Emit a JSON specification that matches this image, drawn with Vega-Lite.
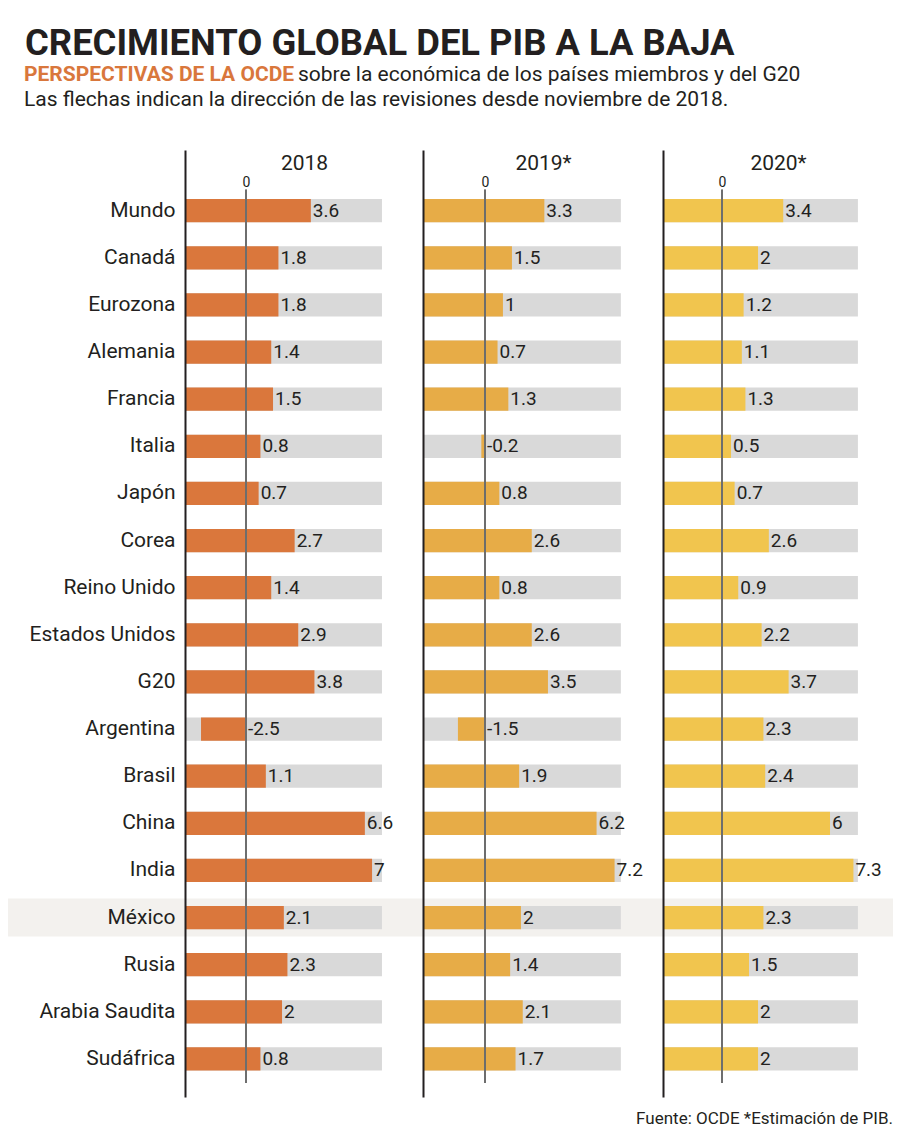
{
  "$schema": "https://vega.github.io/schema/vega-lite/v6.json",
  "background": "white",
  "padding": {"left": 8, "right": 7, "top": 26, "bottom": 10},
  "config": {"font": "Roboto", "view": {"stroke": null}},
  "title": {"text": "CRECIMIENTO GLOBAL DEL PIB A LA BAJA", "anchor": "start", "frame": "bounds", "fontSize": 36.4, "fontWeight": "bold", "font": "Roboto", "color": "#231F20", "dx": 17, "offset": 1},
  "datasets": {
    "pib": [
      {"pais": "Mundo", "anio": "2018", "valor": 3.6},
      {"pais": "Canadá", "anio": "2018", "valor": 1.8},
      {"pais": "Eurozona", "anio": "2018", "valor": 1.8},
      {"pais": "Alemania", "anio": "2018", "valor": 1.4},
      {"pais": "Francia", "anio": "2018", "valor": 1.5},
      {"pais": "Italia", "anio": "2018", "valor": 0.8},
      {"pais": "Japón", "anio": "2018", "valor": 0.7},
      {"pais": "Corea", "anio": "2018", "valor": 2.7},
      {"pais": "Reino Unido", "anio": "2018", "valor": 1.4},
      {"pais": "Estados Unidos", "anio": "2018", "valor": 2.9},
      {"pais": "G20", "anio": "2018", "valor": 3.8},
      {"pais": "Argentina", "anio": "2018", "valor": -2.5},
      {"pais": "Brasil", "anio": "2018", "valor": 1.1},
      {"pais": "China", "anio": "2018", "valor": 6.6},
      {"pais": "India", "anio": "2018", "valor": 7},
      {"pais": "México", "anio": "2018", "valor": 2.1},
      {"pais": "Rusia", "anio": "2018", "valor": 2.3},
      {"pais": "Arabia Saudita", "anio": "2018", "valor": 2},
      {"pais": "Sudáfrica", "anio": "2018", "valor": 0.8},
      {"pais": "Mundo", "anio": "2019", "valor": 3.3},
      {"pais": "Canadá", "anio": "2019", "valor": 1.5},
      {"pais": "Eurozona", "anio": "2019", "valor": 1},
      {"pais": "Alemania", "anio": "2019", "valor": 0.7},
      {"pais": "Francia", "anio": "2019", "valor": 1.3},
      {"pais": "Italia", "anio": "2019", "valor": -0.2},
      {"pais": "Japón", "anio": "2019", "valor": 0.8},
      {"pais": "Corea", "anio": "2019", "valor": 2.6},
      {"pais": "Reino Unido", "anio": "2019", "valor": 0.8},
      {"pais": "Estados Unidos", "anio": "2019", "valor": 2.6},
      {"pais": "G20", "anio": "2019", "valor": 3.5},
      {"pais": "Argentina", "anio": "2019", "valor": -1.5},
      {"pais": "Brasil", "anio": "2019", "valor": 1.9},
      {"pais": "China", "anio": "2019", "valor": 6.2},
      {"pais": "India", "anio": "2019", "valor": 7.2},
      {"pais": "México", "anio": "2019", "valor": 2},
      {"pais": "Rusia", "anio": "2019", "valor": 1.4},
      {"pais": "Arabia Saudita", "anio": "2019", "valor": 2.1},
      {"pais": "Sudáfrica", "anio": "2019", "valor": 1.7},
      {"pais": "Mundo", "anio": "2020", "valor": 3.4},
      {"pais": "Canadá", "anio": "2020", "valor": 2},
      {"pais": "Eurozona", "anio": "2020", "valor": 1.2},
      {"pais": "Alemania", "anio": "2020", "valor": 1.1},
      {"pais": "Francia", "anio": "2020", "valor": 1.3},
      {"pais": "Italia", "anio": "2020", "valor": 0.5},
      {"pais": "Japón", "anio": "2020", "valor": 0.7},
      {"pais": "Corea", "anio": "2020", "valor": 2.6},
      {"pais": "Reino Unido", "anio": "2020", "valor": 0.9},
      {"pais": "Estados Unidos", "anio": "2020", "valor": 2.2},
      {"pais": "G20", "anio": "2020", "valor": 3.7},
      {"pais": "Argentina", "anio": "2020", "valor": 2.3},
      {"pais": "Brasil", "anio": "2020", "valor": 2.4},
      {"pais": "China", "anio": "2020", "valor": 6},
      {"pais": "India", "anio": "2020", "valor": 7.3},
      {"pais": "México", "anio": "2020", "valor": 2.3},
      {"pais": "Rusia", "anio": "2020", "valor": 1.5},
      {"pais": "Arabia Saudita", "anio": "2020", "valor": 2},
      {"pais": "Sudáfrica", "anio": "2020", "valor": 2}
    ]
  },
  "columns": 1,
  "align": "none",
  "spacing": 0,
  "concat": [
    {
      "spacing": 3,
      "hconcat": [
        {
          "width": 10, "height": 1,
          "data": {"values": [{"k": 1}]},
          "mark": {"type": "text", "text": ""},
          "title": {"text": "PERSPECTIVAS DE LA OCDE", "anchor": "start", "dx": -161, "offset": -7, "font": "Roboto", "fontSize": 21, "fontWeight": "bold", "color": "#D9773C"}
        },
        {
          "width": 10, "height": 1,
          "data": {"values": [{"k": 1}]},
          "mark": {"type": "text", "text": ""},
          "title": {"text": "sobre la económica de los países miembros y del G20", "anchor": "start", "dx": 0, "offset": -7, "font": "Roboto", "fontSize": 21, "fontWeight": "normal", "color": "#231F20"}
        }
      ]
    },
    {
      "width": 10, "height": 38,
      "data": {"values": [{"k": 1}]},
      "mark": {"type": "text", "text": ""},
      "title": {"text": "Las flechas indican la dirección de las revisiones desde noviembre de 2018.", "anchor": "start", "dx": -161, "offset": 2, "font": "Roboto", "fontSize": 21, "fontWeight": "normal", "color": "#231F20"}
    },
    {
      "spacing": 0,
      "hconcat": [
        {
          "width": 238, "height": 947,
          "data": {"name": "pib"},
          "transform": [{"filter": "datum.anio == '2018'"}],
          "encoding": {
            "y": {"field": "pais", "type": "nominal",
              "scale": {"domain": ["Mundo","Canadá","Eurozona","Alemania","Francia","Italia","Japón","Corea","Reino Unido","Estados Unidos","G20","Argentina","Brasil","China","India","México","Rusia","Arabia Saudita","Sudáfrica"], "paddingInner": 0.505, "paddingOuter": 0.8, "align": 0.65},
              "axis": {"title": null, "orient": "left", "labelFont": "Roboto", "labelFontSize": 21, "labelColor": "#231F20", "labelPadding": 10, "labelLimit": 300, "ticks": false, "domainColor": "#231F20", "domainWidth": 2, "zindex": 1}}
          },
          "layer": [
            {
              "transform": [{"filter": "datum.pais == 'México'"}],
              "mark": {"type": "bar", "color": "#F3F1EE", "height": {"band": 1.63}},
              "encoding": {
                "x": {"datum": -13.22, "type": "quantitative", "scale": {"domain": [-3.39, 9.83], "nice": false, "zero": false},
                  "axis": {"orient": "top", "values": [0], "offset": -41, "domain": false, "ticks": false, "grid": false, "labelFont": "Roboto", "labelFontSize": 14, "labelColor": "#231F20", "labelPadding": 2, "title": "2018", "titleFont": "Roboto", "titleFontSize": 21, "titleFontWeight": "normal", "titleColor": "#231F20", "titlePadding": 2}},
                "x2": {"datum": 9.83}
              }
            },
            {
              "mark": {"type": "bar", "color": "#D9D9D9"},
              "encoding": {"x": {"datum": -3.39, "type": "quantitative"}, "x2": {"datum": 7.55}}
            },
            {
              "transform": [{"filter": "datum.valor >= 0"}],
              "mark": {"type": "bar", "color": "#DA773C"},
              "encoding": {"x": {"field": "valor", "type": "quantitative"}, "x2": {"datum": -3.39}}
            },
            {
              "transform": [{"filter": "datum.valor < 0"}],
              "mark": {"type": "bar", "color": "#DA773C"},
              "encoding": {"x": {"field": "valor", "type": "quantitative"}, "x2": {"datum": 0}}
            },
            {
              "mark": {"type": "rule", "color": "#6E6E6E", "strokeWidth": 1},
              "encoding": {"x": {"datum": 0, "type": "quantitative"}, "y": {"datum": "Mundo", "type": "nominal", "bandPosition": -0.39}, "y2": {"datum": "Sudáfrica", "bandPosition": 1.53}}
            },
            {
              "transform": [{"filter": "datum.valor >= 0"}],
              "mark": {"type": "text", "align": "left", "baseline": "middle", "dx": 2, "font": "Roboto", "fontSize": 19, "color": "#231F20"},
              "encoding": {"x": {"field": "valor", "type": "quantitative"}, "text": {"field": "valor", "type": "nominal"}}
            },
            {
              "transform": [{"filter": "datum.valor < 0"}],
              "mark": {"type": "text", "align": "left", "baseline": "middle", "dx": 2, "font": "Roboto", "fontSize": 19, "color": "#231F20"},
              "encoding": {"x": {"datum": 0, "type": "quantitative"}, "text": {"field": "valor", "type": "nominal"}}
            }
          ]
        },
        {
          "width": 240, "height": 947,
          "data": {"name": "pib"},
          "transform": [{"filter": "datum.anio == '2019'"}],
          "encoding": {
            "y": {"field": "pais", "type": "nominal",
              "scale": {"domain": ["Mundo","Canadá","Eurozona","Alemania","Francia","Italia","Japón","Corea","Reino Unido","Estados Unidos","G20","Argentina","Brasil","China","India","México","Rusia","Arabia Saudita","Sudáfrica"], "paddingInner": 0.505, "paddingOuter": 0.8, "align": 0.65},
              "axis": {"title": null, "labels": false, "ticks": false, "domainColor": "#231F20", "domainWidth": 2, "zindex": 1}}
          },
          "layer": [
            {
              "transform": [{"filter": "datum.pais == 'México'"}],
              "mark": {"type": "bar", "color": "#F3F1EE", "height": {"band": 1.63}},
              "encoding": {
                "x": {"datum": -3.44, "type": "quantitative", "scale": {"domain": [-3.44, 9.89], "nice": false, "zero": false},
                  "axis": {"orient": "top", "values": [0], "offset": -41, "domain": false, "ticks": false, "grid": false, "labelFont": "Roboto", "labelFontSize": 14, "labelColor": "#231F20", "labelPadding": 2, "title": "2019*", "titleFont": "Roboto", "titleFontSize": 21, "titleFontWeight": "normal", "titleColor": "#231F20", "titlePadding": 2}},
                "x2": {"datum": 9.89}
              }
            },
            {
              "mark": {"type": "bar", "color": "#D9D9D9"},
              "encoding": {"x": {"datum": -3.44, "type": "quantitative"}, "x2": {"datum": 7.55}}
            },
            {
              "transform": [{"filter": "datum.valor >= 0"}],
              "mark": {"type": "bar", "color": "#E7AC47"},
              "encoding": {"x": {"field": "valor", "type": "quantitative"}, "x2": {"datum": -3.44}}
            },
            {
              "transform": [{"filter": "datum.valor < 0"}],
              "mark": {"type": "bar", "color": "#E7AC47"},
              "encoding": {"x": {"field": "valor", "type": "quantitative"}, "x2": {"datum": 0}}
            },
            {
              "mark": {"type": "rule", "color": "#6E6E6E", "strokeWidth": 1},
              "encoding": {"x": {"datum": 0, "type": "quantitative"}, "y": {"datum": "Mundo", "type": "nominal", "bandPosition": -0.39}, "y2": {"datum": "Sudáfrica", "bandPosition": 1.53}}
            },
            {
              "transform": [{"filter": "datum.valor >= 0"}],
              "mark": {"type": "text", "align": "left", "baseline": "middle", "dx": 2, "font": "Roboto", "fontSize": 19, "color": "#231F20"},
              "encoding": {"x": {"field": "valor", "type": "quantitative"}, "text": {"field": "valor", "type": "nominal"}}
            },
            {
              "transform": [{"filter": "datum.valor < 0"}],
              "mark": {"type": "text", "align": "left", "baseline": "middle", "dx": 2, "font": "Roboto", "fontSize": 19, "color": "#231F20"},
              "encoding": {"x": {"datum": 0, "type": "quantitative"}, "text": {"field": "valor", "type": "nominal"}}
            }
          ]
        },
        {
          "width": 230, "height": 947,
          "data": {"name": "pib"},
          "transform": [{"filter": "datum.anio == '2020'"}],
          "encoding": {
            "y": {"field": "pais", "type": "nominal",
              "scale": {"domain": ["Mundo","Canadá","Eurozona","Alemania","Francia","Italia","Japón","Corea","Reino Unido","Estados Unidos","G20","Argentina","Brasil","China","India","México","Rusia","Arabia Saudita","Sudáfrica"], "paddingInner": 0.505, "paddingOuter": 0.8, "align": 0.65},
              "axis": {"title": null, "labels": false, "ticks": false, "domainColor": "#231F20", "domainWidth": 2, "zindex": 1}}
          },
          "layer": [
            {
              "transform": [{"filter": "datum.pais == 'México'"}],
              "mark": {"type": "bar", "color": "#F3F1EE", "height": {"band": 1.63}},
              "encoding": {
                "x": {"datum": -3.28, "type": "quantitative", "scale": {"domain": [-3.28, 9.5], "nice": false, "zero": false},
                  "axis": {"orient": "top", "values": [0], "offset": -41, "domain": false, "ticks": false, "grid": false, "labelFont": "Roboto", "labelFontSize": 14, "labelColor": "#231F20", "labelPadding": 2, "title": "2020*", "titleFont": "Roboto", "titleFontSize": 21, "titleFontWeight": "normal", "titleColor": "#231F20", "titlePadding": 2}},
                "x2": {"datum": 9.5}
              }
            },
            {
              "mark": {"type": "bar", "color": "#D9D9D9"},
              "encoding": {"x": {"datum": -3.28, "type": "quantitative"}, "x2": {"datum": 7.55}}
            },
            {
              "transform": [{"filter": "datum.valor >= 0"}],
              "mark": {"type": "bar", "color": "#F1C54E"},
              "encoding": {"x": {"field": "valor", "type": "quantitative"}, "x2": {"datum": -3.28}}
            },
            {
              "transform": [{"filter": "datum.valor < 0"}],
              "mark": {"type": "bar", "color": "#F1C54E"},
              "encoding": {"x": {"field": "valor", "type": "quantitative"}, "x2": {"datum": 0}}
            },
            {
              "mark": {"type": "rule", "color": "#6E6E6E", "strokeWidth": 1},
              "encoding": {"x": {"datum": 0, "type": "quantitative"}, "y": {"datum": "Mundo", "type": "nominal", "bandPosition": -0.39}, "y2": {"datum": "Sudáfrica", "bandPosition": 1.53}}
            },
            {
              "transform": [{"filter": "datum.valor >= 0"}],
              "mark": {"type": "text", "align": "left", "baseline": "middle", "dx": 2, "font": "Roboto", "fontSize": 19, "color": "#231F20"},
              "encoding": {"x": {"field": "valor", "type": "quantitative"}, "text": {"field": "valor", "type": "nominal"}}
            },
            {
              "transform": [{"filter": "datum.valor < 0"}],
              "mark": {"type": "text", "align": "left", "baseline": "middle", "dx": 2, "font": "Roboto", "fontSize": 19, "color": "#231F20"},
              "encoding": {"x": {"datum": 0, "type": "quantitative"}, "text": {"field": "valor", "type": "nominal"}}
            }
          ]
        }
      ]
    },
    {
      "width": 708, "height": 1,
      "data": {"values": [{"k": 1}]},
      "mark": {"type": "text", "text": ""},
      "title": {"text": "Fuente: OCDE  *Estimación de PIB.", "orient": "bottom", "anchor": "end", "offset": 2, "font": "Roboto", "fontSize": 17, "fontWeight": "normal", "color": "#231F20"}
    }
  ]
}
